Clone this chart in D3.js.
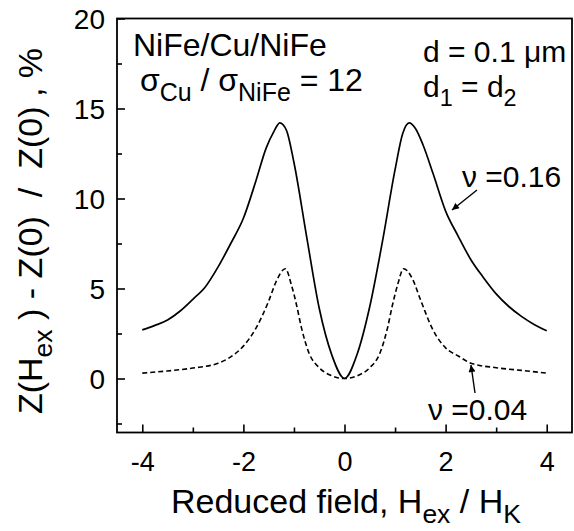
<!DOCTYPE html>
<html>
<head>
<meta charset="utf-8">
<script src="https://cdn.jsdelivr.net/npm/d3@7"></script>
<style>
  html, body { margin: 0; padding: 0; background: #fff; }
  svg { display: block; }
  text { font-family: "Liberation Sans", Arial, Helvetica, sans-serif; fill: #000; white-space: pre; }
</style>
</head>
<body>
<svg id="chart" width="574" height="531"></svg>
<script>
// Reduced field H_ex / H_K for the solid (ν = 0.16) curve
const fieldSolid = [-4, -3.75, -3.5, -3.25, -3, -2.75, -2.5, -2.25, -2, -1.75, -1.55, -1.4, -1.28, -1.15, -1, -0.75, -0.5, -0.25, 0,
                    0.25, 0.5, 0.75, 1, 1.15, 1.28, 1.4, 1.55, 1.75, 2, 2.25, 2.5, 2.75, 3, 3.25, 3.5, 3.75, 4];
// Impedance ratio, %, for ν = 0.16
const ratioNu016 = [2.7, 2.95, 3.25, 3.75, 4.4, 5.1, 6.2, 7.5, 8.9, 11.0, 12.8, 13.7, 14.2, 13.8, 12.0, 7.9, 3.9, 1.3, 0,
                    1.35, 4.0, 7.6, 11.6, 13.6, 14.2, 13.9, 13.0, 11.4, 9.3, 7.9, 6.6, 5.6, 4.7, 4.0, 3.45, 3.0, 2.65];

// Reduced field for the dashed (ν = 0.04) curve
const fieldDash = [-4, -3.5, -3, -2.5, -2.25, -2, -1.75, -1.5, -1.35, -1.17, -1.05, -0.95, -0.85, -0.7, -0.5, -0.25, 0,
                   0.25, 0.5, 0.7, 0.85, 0.95, 1.05, 1.17, 1.35, 1.5, 1.75, 2, 2.25, 2.5, 3, 3.5, 4];
// Impedance ratio, %, for ν = 0.04
const ratioNu004 = [0.3, 0.42, 0.58, 0.85, 1.2, 1.8, 2.8, 4.3, 5.4, 6.1, 5.2, 4.1, 2.8, 1.4, 0.6, 0.15, 0,
                    0.15, 0.6, 1.4, 2.8, 4.1, 5.2, 6.1, 5.5, 4.4, 2.7, 1.7, 1.25, 0.85, 0.6, 0.45, 0.3];

const xMajorTicks = [-4, -2, 0, 2, 4];
const xMinorTicks = [-3, -1, 1, 3];
const yMajorTicks = [0, 5, 10, 15, 20];
const yMinorTicks = [-2.5, 2.5, 7.5, 12.5, 17.5];

const svg = d3.select("#chart");
const plotLeft = 117, plotRight = 572, plotTop = 18.5, plotBottom = 432.5;

const x = d3.scaleLinear().domain([-4.5, 4.5]).range([plotLeft, plotRight]);
const y = d3.scaleLinear().domain([-3, 20]).range([plotBottom, plotTop]);

// Axes with ticks pointing into the plot
const xAxis = svg.append("g").attr("transform", `translate(0,${plotBottom})`);
xAxis.call(d3.axisBottom(x).tickValues(xMajorTicks).tickSizeInner(-8).tickSizeOuter(0)
  .tickFormat(d => d < 0 ? "-" + Math.abs(d) : String(d)));
xAxis.selectAll("text").attr("font-size", 27).attr("y", 19).attr("dy", "0.71em");
xAxis.append("g").call(d3.axisBottom(x).tickValues(xMinorTicks).tickSizeInner(-5).tickSizeOuter(0).tickFormat(""));
xAxis.selectAll(".domain").remove();
xAxis.selectAll("line").attr("stroke", "#000").attr("stroke-width", 1.6);

const yAxis = svg.append("g").attr("transform", `translate(${plotLeft},0)`);
yAxis.call(d3.axisLeft(y).tickValues(yMajorTicks).tickSizeInner(-8).tickSizeOuter(0).tickFormat(d3.format("d")));
yAxis.selectAll("text").attr("font-size", 28).attr("x", -12).attr("dy", "0.36em");
yAxis.append("g").call(d3.axisLeft(y).tickValues(yMinorTicks).tickSizeInner(-5).tickSizeOuter(0).tickFormat(""));
yAxis.selectAll(".domain").remove();
yAxis.selectAll("line").attr("stroke", "#000").attr("stroke-width", 1.6);

// Frame
svg.append("rect")
  .attr("x", plotLeft).attr("y", plotTop)
  .attr("width", plotRight - plotLeft).attr("height", plotBottom - plotTop)
  .attr("fill", "none").attr("stroke", "#000").attr("stroke-width", 1.8);

// Curves
const line = d3.line().x(d => x(d[0])).y(d => y(d[1])).curve(d3.curveMonotoneX);

svg.append("path")
  .datum(fieldSolid.map((f, i) => [f, ratioNu016[i]]))
  .attr("d", line)
  .attr("fill", "none").attr("stroke", "#000").attr("stroke-width", 1.7);

svg.append("path")
  .datum(fieldDash.map((f, i) => [f, ratioNu004[i]]))
  .attr("d", line)
  .attr("fill", "none").attr("stroke", "#000").attr("stroke-width", 1.6)
  .attr("stroke-dasharray", "5,3");

// Text helper: pieces of [text, isSubscript]
function richText(sel, parts, size) {
  parts.forEach(([s, sub], i) => {
    const prevSub = i > 0 && parts[i - 1][1];
    let dy = 0;
    if (sub && !prevSub) dy = size * 0.3;
    if (!sub && prevSub) dy = -size * 0.3;
    sel.append("tspan").attr("dy", dy).attr("font-size", sub ? size * 0.78 : size).text(s);
  });
  return sel;
}

const fs = 32;
richText(svg.append("text").attr("x", 133).attr("y", 56), [["NiFe/Cu/NiFe", false]], fs);
richText(svg.append("text").attr("x", 140).attr("y", 91),
  [["σ", false], ["Cu", true], [" / σ", false], ["NiFe", true], [" = 12", false]], fs);
richText(svg.append("text").attr("x", 423).attr("y", 62), [["d = 0.1 μm", false]], 30);
richText(svg.append("text").attr("x", 423).attr("y", 97),
  [["d", false], ["1", true], [" = d", false], ["2", true]], 30);
richText(svg.append("text").attr("x", 462).attr("y", 187), [["ν =0.16", false]], 30);
richText(svg.append("text").attr("x", 428).attr("y", 420), [["ν =0.04", false]], 30);

// Arrows pointing at the curves
svg.append("defs").append("marker")
  .attr("id", "head").attr("viewBox", "0 0 10 10")
  .attr("refX", 10).attr("refY", 5)
  .attr("markerWidth", 9).attr("markerHeight", 7)
  .attr("markerUnits", "userSpaceOnUse")
  .attr("orient", "auto")
  .append("path").attr("d", "M0,0 L10,5 L0,10 Z").attr("fill", "#000");

svg.append("line").attr("x1", 477).attr("y1", 190).attr("x2", 452).attr("y2", 210)
  .attr("stroke", "#000").attr("stroke-width", 1.4).attr("marker-end", "url(#head)");
svg.append("line").attr("x1", 475).attr("y1", 393).attr("x2", 471).attr("y2", 365)
  .attr("stroke", "#000").attr("stroke-width", 1.4).attr("marker-end", "url(#head)");

// Axis titles
richText(svg.append("text").attr("x", 346).attr("y", 513).attr("text-anchor", "middle"),
  [["Reduced field, H", false], ["ex", true], [" / H", false], ["K", true]], 34);

richText(svg.append("text").attr("transform", "translate(42,231) rotate(-90)").attr("text-anchor", "middle"),
  [["Z(H", false], ["ex", true], [" ) - Z(0)  /  Z(0) , %", false]], 34);
</script>
</body>
</html>
